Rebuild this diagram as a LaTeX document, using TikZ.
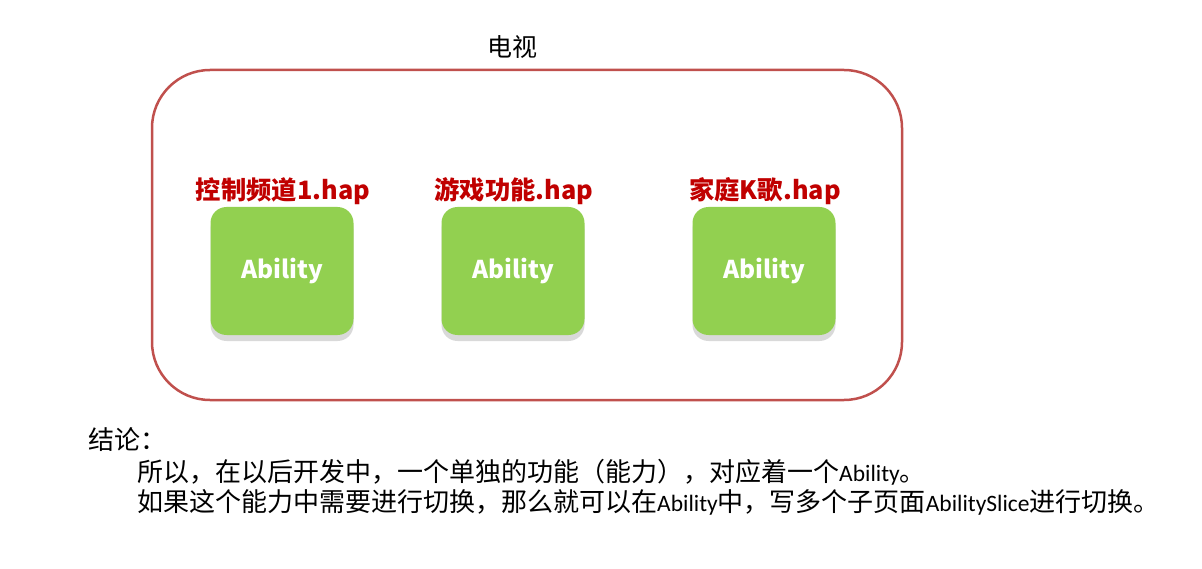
\documentclass[tikz,border=0pt]{standalone}
\usepackage{fontspec}
\setmainfont{Carlito}
\newfontfamily\cjk{Noto Sans CJK SC}
\newcommand\zhtxt[1]{{\cjk\fontsize{26}{30}\selectfont #1}}
\definecolor{framered}{HTML}{C0504D}
\definecolor{abgreen}{HTML}{92D050}
\definecolor{hapred}{HTML}{C00000}
\definecolor{shadowgray}{HTML}{D9D9D9}
\begin{document}
\begin{tikzpicture}[x=1pt,y=-1pt,
  abox/.style={fill=abgreen, rounded corners=16pt, minimum width=143pt, minimum height=128pt, inner sep=0pt, text=white, font=\cjk\bfseries\fontsize{24.5}{28}\selectfont},
  shbox/.style={fill=shadowgray, rounded corners=16pt, minimum width=143pt, minimum height=128pt, inner sep=0pt},
  haplabel/.style={text=hapred, inner sep=0pt, font=\cjk\bfseries\fontsize{25.3}{28}\selectfont},
  bodytext/.style={anchor=west, inner sep=0pt, font=\fontsize{23.5}{30}\selectfont}]
\useasboundingbox (0,0) rectangle (1202,569);
\draw[framered, line width=2.5pt, rounded corners=58pt] (152,70) rectangle (902,400);
\node[inner sep=0pt, font=\cjk\fontsize{25}{28}\selectfont] (title) at (512,47) {电视};
% shadows
\node[shbox] (s1) at (282,277) {};
\node[shbox] (s2) at (513,277) {};
\node[shbox] (s3) at (764,277) {};
% ability boxes
\node[abox] (a1) at (282,271) {Ability};
\node[abox] (a2) at (513,271) {Ability};
\node[abox] (a3) at (764,271) {Ability};
% labels
\node[haplabel] (h1) at (283,191) {控制频道1.hap};
\node[haplabel] (h2) at (514,191) {游戏功能.hap};
\node[haplabel] (h3) at (765,191) {家庭K歌.hap};
% conclusion
\node[bodytext] (c0) at (88,440) {\zhtxt{结论：}};
\node[bodytext] (c1) at (137,472) {\zhtxt{所以，在以后开发中，一个单独的功能（能力），对应着一个}Ability\zhtxt{。}};
\node[bodytext] (c2) at (137,502) {\zhtxt{如果这个能力中需要进行切换，那么就可以在}Ability\zhtxt{中，写多个子页面}AbilitySlice\zhtxt{进行切换。}};
\end{tikzpicture}
\end{document}
